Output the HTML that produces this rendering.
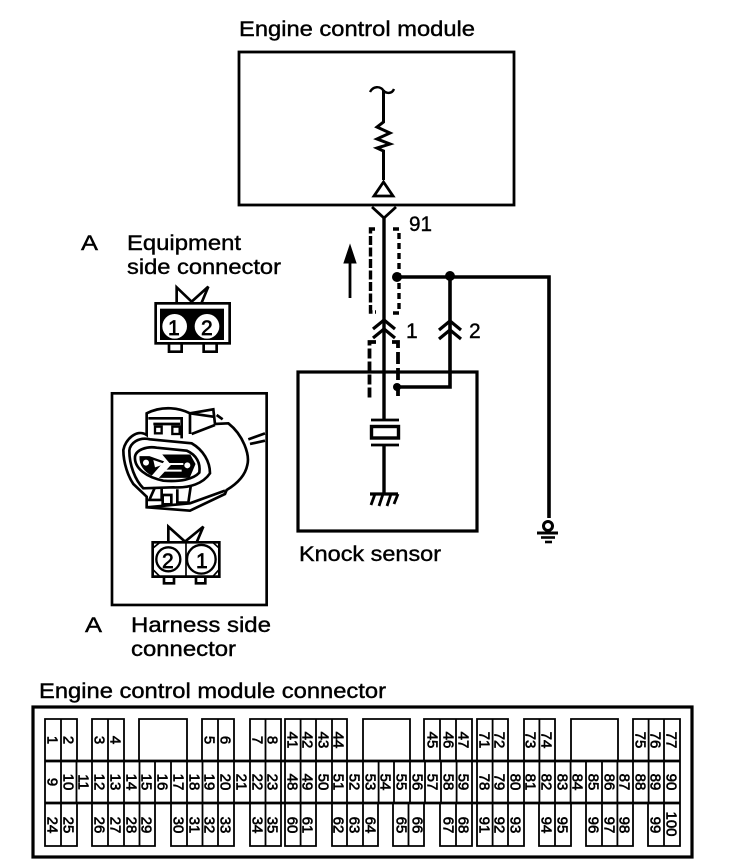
<!DOCTYPE html>
<html><head><meta charset="utf-8"><style>
html,body{margin:0;padding:0;background:#fff}
svg{display:block}
text{font-family:"Liberation Sans",sans-serif;fill:#000}
.l{font-size:21px;stroke:#000;stroke-width:.4}
.n text{font-size:15px;text-anchor:middle;stroke:#000;stroke-width:.6}
</style></head><body>
<svg width="736" height="864" viewBox="0 0 736 864" fill="none" stroke="#000">
<rect width="736" height="864" fill="#fff" stroke="none"/>
<!-- labels -->
<text class="l" x="239" y="36" textLength="236" lengthAdjust="spacingAndGlyphs">Engine control module</text>
<text class="l" x="409" y="231" textLength="23" lengthAdjust="spacingAndGlyphs">91</text>
<text class="l" x="81" y="250" textLength="17" lengthAdjust="spacingAndGlyphs">A</text>
<text class="l" x="127" y="250" textLength="114" lengthAdjust="spacingAndGlyphs">Equipment</text>
<text class="l" x="127" y="274" textLength="154" lengthAdjust="spacingAndGlyphs">side connector</text>
<text class="l" x="85" y="632" textLength="17" lengthAdjust="spacingAndGlyphs">A</text>
<text class="l" x="131" y="632" textLength="140" lengthAdjust="spacingAndGlyphs">Harness side</text>
<text class="l" x="131" y="656" textLength="105" lengthAdjust="spacingAndGlyphs">connector</text>
<text class="l" x="299" y="561" textLength="142" lengthAdjust="spacingAndGlyphs">Knock sensor</text>
<text class="l" x="406" y="338">1</text>
<text class="l" x="469" y="338">2</text>
<text class="l" x="39" y="698" textLength="347" lengthAdjust="spacingAndGlyphs">Engine control module connector</text>
<!-- ECM -->
<rect x="239" y="52" width="275" height="153" stroke-width="2.800"/>
<path d="M370 92C373 86 380 86 383 90C386 94 392 94 394 89" stroke-width="2.400"/>
<path d="M383.500 90V122L377 127L390 133L377 139L390 144L377 148L383.500 151V180" stroke-width="3"/>
<path d="M383.500 182L374 196H393Z" stroke-width="2.800"/>
<path d="M372 207L384 218L396 207" stroke-width="2.800"/>
<path d="M384 218V420M384 445V495" stroke-width="3.400"/>
<!-- shields -->
<path d="M375 229H370.500V312H376" stroke-width="3.400" stroke-dasharray="9 2.500"/>
<path d="M393 229H399V313H391" stroke-width="3.400" stroke-dasharray="6 4"/>
<path d="M376 342H369.500V400" stroke-width="3.800" stroke-dasharray="10 3"/>
<path d="M392 342H398V399" stroke-width="3.800" stroke-dasharray="12 4"/>
<!-- arrow -->
<path d="M350 298V258" stroke-width="2.800"/>
<path d="M350 245L344 263H356Z" fill="#000"/>
<!-- wires -->
<circle cx="397" cy="277" r="5" fill="#000" stroke="none"/>
<circle cx="450" cy="276" r="5" fill="#000" stroke="none"/>
<path d="M397 277H549V518" stroke-width="3.600"/>
<path d="M450 276V387H398" stroke-width="3.600"/>
<circle cx="397" cy="387" r="4" fill="#000" stroke="none"/>
<!-- chevrons -->
<path d="M373 329L384 320L395 329M373 338L384 329L395 338" stroke-width="3.200"/>
<path d="M439 330L450 321L461 330M439 339L450 330L461 339" stroke-width="3.200"/>
<!-- sensor -->
<rect x="298" y="372" width="179" height="159" stroke-width="3.200"/>
<path d="M371 420H399M371 445H399" stroke-width="2.800"/>
<rect x="371.500" y="426.500" width="27" height="11.500" stroke-width="3.400"/>
<path d="M370 494H398" stroke-width="3.200"/>
<path d="M375 494L371 505M383 494L379 506M391 494L387 506M398 494L394 504" stroke-width="2.800"/>
<!-- ground -->
<circle cx="548" cy="526" r="4.500" stroke-width="3"/>
<path d="M537 533H558" stroke-width="3"/>
<path d="M541 537.500H555" stroke-width="2.600"/>
<path d="M545 542H552" stroke-width="2.600"/>
<!-- connectors (zoom coordinates) -->
<g transform="translate(100 280) scale(.3333)" stroke-width="8">
<path d="M230 68V22L275 65L325 20L305 68"/>
<rect x="167" y="70" width="222" height="120"/>
<rect x="180" y="86" width="192" height="94" fill="#000" stroke="none"/>
<circle cx="224" cy="139" r="37" fill="#fff" stroke="none"/>
<circle cx="321" cy="139" r="37" fill="#fff" stroke="none"/>
<path d="M207 192V215H245V192M311 192V215H350V192"/>
<rect x="36" y="340" width="464" height="635"/>
<path d="M158 787H358V890H158Z"/>
<path d="M158 805L180 787M358 805L338 787M158 868L180 890M358 868L338 890" stroke-width="5"/>
<path d="M205 787V740L255 785L310 740L290 787"/>
<path d="M258 787V890" stroke-width="5"/>
<circle cx="205" cy="838" r="36" fill="#fff" stroke-width="7"/>
<circle cx="304" cy="838" r="43" fill="#fff" stroke-width="7"/>
<path d="M192 890V910H222V890M288 890V910H316V890"/>
<!-- housing -->
<path d="M140 465V400C190 375 240 385 270 400L340 388L345 432L385 430C430 465 450 525 442 555C435 590 405 615 380 630L375 642L270 692L140 682V650L100 612C85 590 70 550 70 510C75 480 110 445 140 465Z"/>
<path d="M270 400V462M275 462L345 435M270 400L340 410M350 405L368 418"/>
<path d="M445 478L495 460M450 492L495 482"/>
<path d="M88 512C90 490 115 470 150 478L275 490C310 510 330 545 330 580C310 610 270 625 220 622L130 625C105 600 88 555 88 512Z"/>
<path d="M105 530C108 510 140 498 170 503L260 512C290 525 302 550 298 578C280 598 240 606 190 602C140 592 102 565 105 530Z"/>
<path d="M120 530H148L190 545L155 585C135 575 118 555 120 530ZM190 525H270L285 552L268 592H180L215 555Z" fill="#000" stroke-width="3"/>
<circle cx="138" cy="548" r="9" fill="#fff" stroke="none"/>
<path d="M160 540L195 552L165 562Z" fill="#fff" stroke="none"/>
<circle cx="262" cy="556" r="9" fill="#fff" stroke="none"/>
<path d="M195 552H250M185 572H245" stroke="#fff" stroke-width="6"/>
<path d="M145 415H245V475M160 432H240"/>
<rect x="165" y="440" width="20" height="20" stroke-width="7"/>
<rect x="217" y="440" width="22" height="22" stroke-width="7"/>
<path d="M165 622L148 660H185V625M232 628V668H265L272 620"/>
<path d="M140 682L270 670L375 632"/>
<rect x="188" y="645" width="26" height="28" stroke-width="8"/>
</g>
<!-- module connector -->
<rect x="33" y="707" width="659" height="150" stroke-width="3.200"/>
<path d="M45 761H680M45 803H680" stroke-width="2.800"/>
<path stroke-width="1.800" d="M45 761V719H77V761M61 719V761M92 761V719H124V761M108 719V761M139 761V719H187V761M202 761V719H234V761M218 719V761M250 761V719H281V761M265.500 719V761
M285 761V719H347V761M300.600 719V761M316 719V761M332 719V761M363 761V719H410V761M424 761V719H472V761M440 719V761M456 719V761
M477 761V719H508V761M492.600 719V761M524 761V719H555V761M539.400 719V761M571 761V719H618V761M633 761V719H680V761M648.600 719V761M664 719V761
M45 761V803M61 761V803M76.500 761V803M92 761V803M108 761V803M124 761V803M139.500 761V803M155 761V803M171 761V803M187 761V803M202.500 761V803M218 761V803M234 761V803M250 761V803M265.500 761V803M281 761V803
M285 761V803M300.600 761V803M316 761V803M332 761V803M347 761V803M363 761V803M378.600 761V803M394 761V803M410 761V803M425 761V803M441 761V803M456.600 761V803M472 761V803
M477 761V803M492.600 761V803M508 761V803M524 761V803M539.400 761V803M555 761V803M570.600 761V803M586 761V803M602 761V803M617.400 761V803M633 761V803M648.600 761V803M664 761V803M680 761V803
M45 803V846H77V803M61 803V846M92 803V846H155V803M108 803V846M124 803V846M139.500 803V846M171 803V846H234V803M187 803V846M202.500 803V846M218 803V846M250 803V846H281V803M265.500 803V846
M285 803V846H316V803M300.600 803V846M332 803V846H378V803M347 803V846M363 803V846M393 803V846H424V803M408.500 803V846M440 803V846H472V803M456 803V846
M477 803V846H524V803M492.600 803V846M508 803V846M539 803V846H571V803M555 803V846M586 803V846H633V803M602 803V846M617.400 803V846M648 803V846H680V803M664 803V846"/>
<g class="n" transform="translate(-.4 0)">
<text transform="translate(48 740) rotate(90)">1</text><text transform="translate(64 740) rotate(90)">2</text><text transform="translate(95 740) rotate(90)">3</text><text transform="translate(111 740) rotate(90)">4</text><text transform="translate(205 740) rotate(90)">5</text><text transform="translate(221 740) rotate(90)">6</text><text transform="translate(253 740) rotate(90)">7</text><text transform="translate(268 740) rotate(90)">8</text>
<text transform="translate(48 782) rotate(90)">9</text><text transform="translate(64 782) rotate(90)">10</text><text transform="translate(79 782) rotate(90)">11</text><text transform="translate(95 782) rotate(90)">12</text><text transform="translate(111 782) rotate(90)">13</text><text transform="translate(127 782) rotate(90)">14</text><text transform="translate(142 782) rotate(90)">15</text><text transform="translate(158 782) rotate(90)">16</text><text transform="translate(174 782) rotate(90)">17</text><text transform="translate(190 782) rotate(90)">18</text><text transform="translate(205 782) rotate(90)">19</text><text transform="translate(221 782) rotate(90)">20</text><text transform="translate(237 782) rotate(90)">21</text><text transform="translate(253 782) rotate(90)">22</text><text transform="translate(268 782) rotate(90)">23</text>
<text transform="translate(48 825) rotate(90)">24</text><text transform="translate(64 825) rotate(90)">25</text><text transform="translate(95 825) rotate(90)">26</text><text transform="translate(111 825) rotate(90)">27</text><text transform="translate(127 825) rotate(90)">28</text><text transform="translate(142 825) rotate(90)">29</text><text transform="translate(174 825) rotate(90)">30</text><text transform="translate(190 825) rotate(90)">31</text><text transform="translate(205 825) rotate(90)">32</text><text transform="translate(221 825) rotate(90)">33</text><text transform="translate(253 825) rotate(90)">34</text><text transform="translate(268 825) rotate(90)">35</text>
<text transform="translate(288 740) rotate(90)">41</text><text transform="translate(303 740) rotate(90)">42</text><text transform="translate(319 740) rotate(90)">43</text><text transform="translate(334 740) rotate(90)">44</text><text transform="translate(428 740) rotate(90)">45</text><text transform="translate(444 740) rotate(90)">46</text><text transform="translate(459 740) rotate(90)">47</text>
<text transform="translate(288 782) rotate(90)">48</text><text transform="translate(303 782) rotate(90)">49</text><text transform="translate(319 782) rotate(90)">50</text><text transform="translate(334 782) rotate(90)">51</text><text transform="translate(350 782) rotate(90)">52</text><text transform="translate(366 782) rotate(90)">53</text><text transform="translate(381 782) rotate(90)">54</text><text transform="translate(397 782) rotate(90)">55</text><text transform="translate(413 782) rotate(90)">56</text><text transform="translate(428 782) rotate(90)">57</text><text transform="translate(444 782) rotate(90)">58</text><text transform="translate(459 782) rotate(90)">59</text>
<text transform="translate(288 825) rotate(90)">60</text><text transform="translate(303 825) rotate(90)">61</text><text transform="translate(334 825) rotate(90)">62</text><text transform="translate(350 825) rotate(90)">63</text><text transform="translate(366 825) rotate(90)">64</text><text transform="translate(397 825) rotate(90)">65</text><text transform="translate(413 825) rotate(90)">66</text><text transform="translate(444 825) rotate(90)">67</text><text transform="translate(459 825) rotate(90)">68</text>
<text transform="translate(480 740) rotate(90)">71</text><text transform="translate(495 740) rotate(90)">72</text><text transform="translate(526 740) rotate(90)">73</text><text transform="translate(542 740) rotate(90)">74</text><text transform="translate(636 740) rotate(90)">75</text><text transform="translate(651 740) rotate(90)">76</text><text transform="translate(667 740) rotate(90)">77</text>
<text transform="translate(480 782) rotate(90)">78</text><text transform="translate(495 782) rotate(90)">79</text><text transform="translate(511 782) rotate(90)">80</text><text transform="translate(526 782) rotate(90)">81</text><text transform="translate(542 782) rotate(90)">82</text><text transform="translate(558 782) rotate(90)">83</text><text transform="translate(573 782) rotate(90)">84</text><text transform="translate(589 782) rotate(90)">85</text><text transform="translate(605 782) rotate(90)">86</text><text transform="translate(620 782) rotate(90)">87</text><text transform="translate(636 782) rotate(90)">88</text><text transform="translate(651 782) rotate(90)">89</text><text transform="translate(667 782) rotate(90)">90</text>
<text transform="translate(480 825) rotate(90)">91</text><text transform="translate(495 825) rotate(90)">92</text><text transform="translate(511 825) rotate(90)">93</text><text transform="translate(542 825) rotate(90)">94</text><text transform="translate(558 825) rotate(90)">95</text><text transform="translate(589 825) rotate(90)">96</text><text transform="translate(605 825) rotate(90)">97</text><text transform="translate(620 825) rotate(90)">98</text><text transform="translate(651 825) rotate(90)">99</text><text transform="translate(667 824) rotate(90)">100</text>
</g>
<!-- connector pin numbers -->
<g class="l">
<text x="168" y="335" style="font-size:21px;stroke-width:.7">1</text><text x="201" y="335" style="font-size:21px;stroke-width:.7">2</text>
<text x="162" y="568" style="font-size:21px;stroke-width:.7">2</text><text x="196" y="568" style="font-size:21px;stroke-width:.7">1</text>
</g>
</svg>
</body></html>
